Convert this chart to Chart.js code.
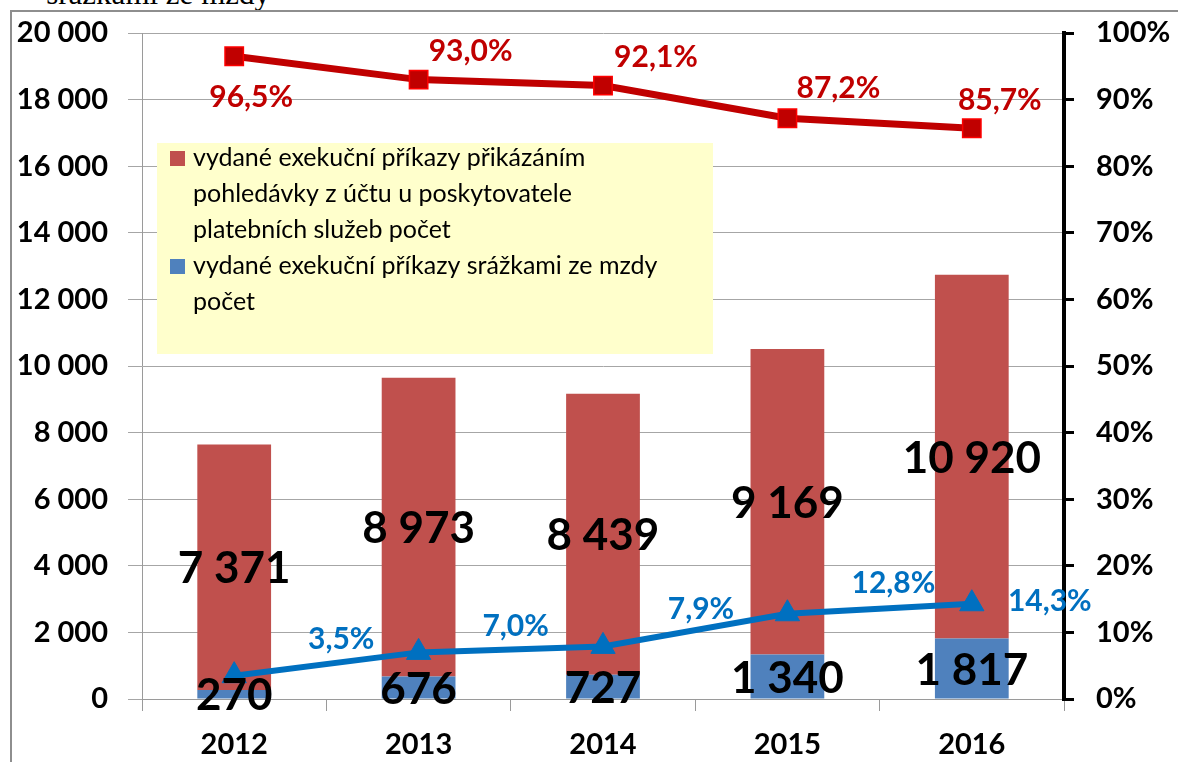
<!DOCTYPE html>
<html><head><meta charset="utf-8">
<script src="https://cdn.jsdelivr.net/npm/chart.js@4/dist/chart.umd.min.js"></script>
<style>
html,body{margin:0;padding:0;background:#fff}
body{width:1178px;height:762px;overflow:hidden;position:relative}
#frame{position:absolute;left:10px;top:10px;width:1300px;height:900px;border:2px solid #8e8e8e;box-sizing:border-box}
#cap{position:absolute;right:908px;top:-24px;font-family:"Liberation Serif",serif;font-size:31px;color:#000;white-space:nowrap}
#wrap{position:absolute;left:0;top:0;width:1178px;height:762px}
</style></head>
<body>
<div id="cap">srážkami ze mzdy</div>
<div id="frame"></div>
<div id="wrap"><canvas id="c" width="1178" height="762"></canvas></div>
<script>
const years = ['2012', '2013', '2014', '2015', '2016'];
const accountOrders = [7371, 8973, 8439, 9169, 10920];
const wageOrders = [270, 676, 727, 1340, 1817];
const accountShare = [96.5, 93.0, 92.1, 87.2, 85.7];
const wageShare = [3.5, 7.0, 7.9, 12.8, 14.3];
const accountLabel = 'vydané exekuční příkazy přikázáním pohledávky z účtu u poskytovatele platebních služeb počet';
const wageLabel = 'vydané exekuční příkazy srážkami ze mzdy počet';
const legendLines = [
  ['vydané exekuční příkazy přikázáním', 'pohledávky z účtu u poskytovatele', 'platebních služeb počet'],
  ['vydané exekuční příkazy srážkami ze mzdy', 'počet']
];

const FONT = 'Lato, "Open Sans", sans-serif';
const RED_BAR = '#C0504D', BLUE_BAR = '#4F81BD', RED_LINE = '#C00000', BLUE_LINE = '#0070C0';

function fmtNum(v){ return String(Math.round(v)).replace(/\B(?=(\d{3})+(?!\d))/g, ' '); }
function fmtPct(v){ return v.toFixed(1).replace('.', ',') + '%'; }

// label offsets (px) relative to line points
const redOffsets = [[17, 41], [52, -28], [53, -28], [51, -30], [28, -28]];
const blueOffsets = [[107, -36], [97, -26], [98, -37], [106, -30], [78, -2]];

const legendPlugin = {
  id: 'boxLegend',
  beforeDatasetsDraw(chart){
    const ctx = chart.ctx;
    ctx.save();
    ctx.fillStyle = '#FFFFCC';
    ctx.fillRect(157, 143, 556, 211);
    ctx.font = '25px ' + FONT;
    ctx.textBaseline = 'middle';
    ctx.textAlign = 'left';
    const colors = [RED_BAR, BLUE_BAR];
    let y = 158;
    legendLines.forEach((lines, k) => {
      ctx.fillStyle = colors[k];
      ctx.fillRect(170, y - 7, 15, 15);
      ctx.fillStyle = '#000';
      lines.forEach(l => { ctx.fillText(l, 193, y); y += 36; });
    });
    ctx.restore();
  }
};

const labelPlugin = {
  id: 'valLabels',
  afterDatasetsDraw(chart){
    const ctx = chart.ctx;
    ctx.save();
    ctx.textAlign = 'center';
    ctx.textBaseline = 'middle';
    [0, 1].forEach(di => {
      const meta = chart.getDatasetMeta(di);
      const ds = chart.data.datasets[di];
      ctx.font = 'bold 44px ' + FONT;
      ctx.fillStyle = '#000';
      meta.data.forEach((el, i) => {
        const cy = (el.y + el.base) / 2;
        ctx.fillText(fmtNum(ds.data[i]), el.x, cy + 2);
      });
    });
    [[2, redOffsets, RED_LINE], [3, blueOffsets, BLUE_LINE]].forEach(([di, offs, col]) => {
      const meta = chart.getDatasetMeta(di);
      const ds = chart.data.datasets[di];
      ctx.font = 'bold 30px ' + FONT;
      ctx.fillStyle = col;
      meta.data.forEach((el, i) => {
        ctx.fillText(fmtPct(ds.data[i]), el.x + offs[i][0], el.y + offs[i][1]);
      });
    });
    ctx.restore();
  }
};

function fixV(w){ return function(s){ s.width = w; s.paddingTop = 0; s.paddingBottom = 0; }; }

new Chart(document.getElementById('c'), {
  data: {
    labels: years,
    datasets: [
      { type: 'bar', label: wageLabel, data: wageOrders, backgroundColor: BLUE_BAR, stack: 's', yAxisID: 'y', order: 2, categoryPercentage: 1, barPercentage: 0.4 },
      { type: 'bar', label: accountLabel, data: accountOrders, backgroundColor: RED_BAR, stack: 's', yAxisID: 'y', order: 2, categoryPercentage: 1, barPercentage: 0.4 },
      { type: 'line', label: 'podíl účet', data: accountShare, yAxisID: 'y2', borderColor: RED_LINE, borderWidth: 7, pointStyle: 'rect', pointRadius: 13, pointBackgroundColor: RED_LINE, pointBorderColor: '#FF0000', pointBorderWidth: 1.5, order: 1, tension: 0 },
      { type: 'line', label: 'podíl mzda', data: wageShare, yAxisID: 'y2', borderColor: BLUE_LINE, borderWidth: 6, pointStyle: 'triangle', pointRadius: 14, pointBackgroundColor: BLUE_LINE, pointBorderColor: BLUE_LINE, pointBorderWidth: 1, order: 1, tension: 0 }
    ]
  },
  options: {
    responsive: false,
    animation: false,
    devicePixelRatio: 1,
    layout: { padding: { top: 33, left: 0, right: 0, bottom: 0 } },
    plugins: { legend: { display: false }, tooltip: { enabled: false } },
    scales: {
      x: {
        stacked: true,
        grid: { offset: true, drawOnChartArea: false, color: '#9a9a9a', tickLength: 12, lineWidth: 1 },
        border: { color: '#9a9a9a', width: 1 },
        ticks: { color: '#000', font: { family: FONT, size: 29, weight: 'bold' }, padding: 16, maxRotation: 0 },
        afterFit(s){ s.height = 63; s.paddingLeft = 0; s.paddingRight = 0; }
      },
      y: {
        stacked: true, position: 'left', min: 0, max: 20000,
        ticks: { stepSize: 2000, color: '#000', font: { family: FONT, size: 29, weight: 'bold' }, padding: 20, callback: v => fmtNum(v) },
        grid: { color: '#a6a6a6', tickLength: 14, lineWidth: 1 },
        border: { color: '#9a9a9a', width: 1 },
        afterFit: fixV(142)
      },
      y2: {
        position: 'right', min: 0, max: 100,
        ticks: { stepSize: 10, color: '#000', font: { family: FONT, size: 29, weight: 'bold' }, padding: 22, callback: v => v + '%' },
        grid: { drawOnChartArea: false, color: '#000', lineWidth: 3, tickLength: 10 },
        border: { color: '#000', width: 4 },
        afterFit: fixV(114)
      }
    }
  },
  plugins: [legendPlugin, labelPlugin]
});
</script>
</body></html>
